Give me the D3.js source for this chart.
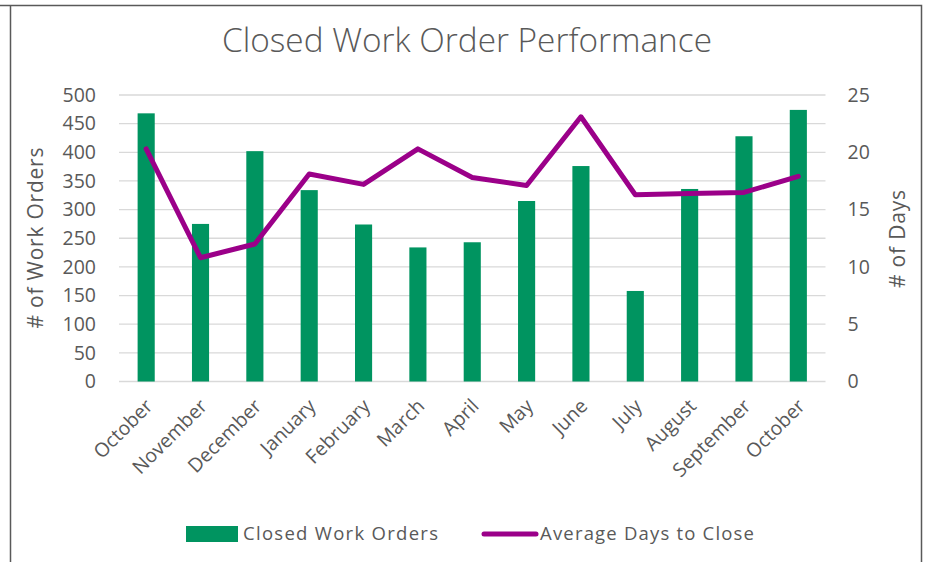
<!DOCTYPE html>
<html><head><meta charset="utf-8">
<script src="https://cdn.jsdelivr.net/npm/d3@7/dist/d3.min.js"></script>
<style>
html,body{margin:0;padding:0;background:#fff;}
text{font-family:"Open Sans","Liberation Sans",sans-serif;fill:#595959;}
</style></head>
<body>
<svg id="chart" width="926" height="562"></svg>
<script>
const months = ["October","November","December","January","February","March","April","May","June","July","August","September","October"];
const closedOrders = [468, 275, 402, 334, 274, 234, 243, 315, 376, 158, 336, 428, 474];
const avgDays = [20.3, 10.8, 12.0, 18.1, 17.2, 20.3, 17.8, 17.1, 23.1, 16.3, 16.4, 16.5, 17.9];
const leftTicks = [0,50,100,150,200,250,300,350,400,450,500];
const rightTicks = [0,5,10,15,20,25];

const svg = d3.select("#chart");
const plot = {left:119, right:825.5, top:95, bottom:381.5};

// frame
svg.append("path").attr("d","M0,5.5H921.5V562 M10.5,5.5V562")
  .attr("fill","none").attr("stroke","#595959").attr("stroke-width",1.5);

const x = d3.scaleBand().domain(d3.range(months.length)).range([plot.left, plot.right]).paddingInner(0.685).paddingOuter(0.3425);
const yL = d3.scaleLinear().domain([0,500]).range([plot.bottom, plot.top]);
const yR = d3.scaleLinear().domain([0,25]).range([plot.bottom, plot.top]);
const cx = i => x(i) + x.bandwidth()/2;

// gridlines
svg.append("g").selectAll("line").data(leftTicks).join("line")
  .attr("x1",plot.left).attr("x2",plot.right)
  .attr("y1",d=>yL(d)).attr("y2",d=>yL(d))
  .attr("stroke","#d9d9d9").attr("stroke-width",1.3);

// left axis
const gL = svg.append("g").attr("transform",`translate(${plot.left},0)`)
  .call(d3.axisLeft(yL).tickValues(leftTicks).tickSize(0).tickPadding(23));
gL.select(".domain").remove();
gL.selectAll("text").style("font-size","19.5px").attr("fill","#595959");

// right axis
const gR = svg.append("g").attr("transform",`translate(${plot.right},0)`)
  .call(d3.axisRight(yR).tickValues(rightTicks).tickSize(0).tickPadding(22));
gR.select(".domain").remove();
gR.selectAll("text").style("font-size","19.5px").attr("fill","#595959");

// bars
svg.append("g").selectAll("rect").data(closedOrders).join("rect")
  .attr("x",(d,i)=>x(i)).attr("width",x.bandwidth())
  .attr("y",d=>yL(d)).attr("height",d=>yL(0)-yL(d))
  .attr("fill","#009460");

// line
const line = d3.line().x((d,i)=>cx(i)).y(d=>yR(d));
svg.append("path").datum(avgDays).attr("d",line)
  .attr("fill","none").attr("stroke","#9b0089").attr("stroke-width",5)
  .attr("stroke-linejoin","round").attr("stroke-linecap","round");

// x labels
svg.append("g").selectAll("text").data(months).join("text")
  .attr("transform",(d,i)=>`translate(${cx(i)+3},${plot.bottom+21}) rotate(-45)`)
  .attr("text-anchor","end").attr("dy","0.35em")
  .style("font-size","19.5px").text(d=>d);

// title
svg.append("text").attr("x",467).attr("y",52).attr("text-anchor","middle")
  .style("font-size","33px").style("font-weight","300")
  .attr("textLength",490).attr("lengthAdjust","spacingAndGlyphs").text("Closed Work Order Performance");

// axis titles
svg.append("text").attr("transform","translate(43,238) rotate(-90)")
  .attr("text-anchor","middle").style("font-size","21px").attr("textLength",181).text("# of Work Orders");
svg.append("text").attr("transform","translate(905,239) rotate(-90)")
  .attr("text-anchor","middle").style("font-size","21px").attr("textLength",98).text("# of Days");

// legend
const lg = svg.append("g");
lg.append("rect").attr("x",186).attr("y",526).attr("width",52).attr("height",16).attr("fill","#009460");
lg.append("text").attr("x",243).attr("y",540).style("font-size","18.5px").attr("textLength",195).text("Closed Work Orders");
lg.append("line").attr("x1",484).attr("x2",536).attr("y1",534).attr("y2",534)
  .attr("stroke","#9b0089").attr("stroke-width",5).attr("stroke-linecap","round");
lg.append("text").attr("x",540).attr("y",540).style("font-size","18.5px").attr("textLength",214).text("Average Days to Close");
</script>
</body></html>
